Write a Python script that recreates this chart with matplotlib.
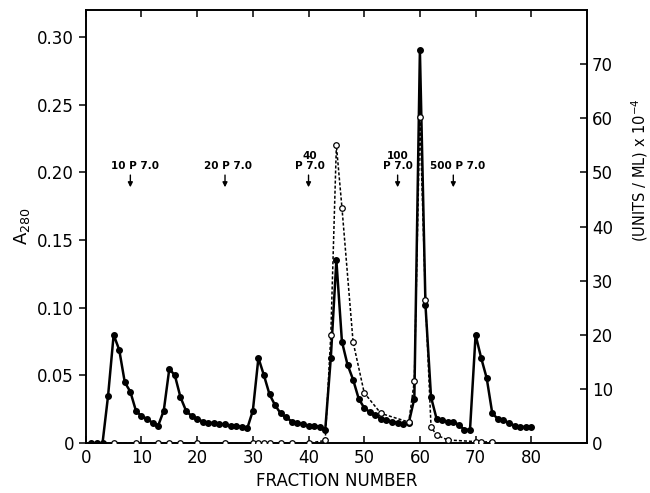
import matplotlib
matplotlib.use("Agg")
import matplotlib.pyplot as plt
from matplotlib.ticker import FuncFormatter

# A280 (filled dots, solid line, left axis)
frac_a = list(range(1, 81))
a280 = [0, 0, 0, 0.035, 0.080, 0.069, 0.045, 0.038, 0.024, 0.020,
        0.018, 0.015, 0.013, 0.024, 0.055, 0.050, 0.034, 0.024, 0.020, 0.018,
        0.016, 0.015, 0.015, 0.014, 0.014, 0.013, 0.013, 0.012, 0.011, 0.024,
        0.063, 0.050, 0.036, 0.028, 0.022, 0.019, 0.016, 0.015, 0.014, 0.013,
        0.013, 0.012, 0.010, 0.063, 0.135, 0.075, 0.058, 0.047, 0.033, 0.026,
        0.023, 0.021, 0.018, 0.017, 0.016, 0.015, 0.014, 0.015, 0.033, 0.290,
        0.102, 0.034, 0.018, 0.017, 0.016, 0.016, 0.0135, 0.010, 0.010, 0.080,
        0.063, 0.048, 0.022, 0.018, 0.017, 0.015, 0.013, 0.012, 0.012, 0.012]

# activity, (units/ml) x 10^-4 (open circles, dashed line, right axis)
frac_u = [5, 9, 13, 15, 17, 20, 25, 30, 31, 32, 33, 35, 37, 40, 43,
          44, 45, 46, 48, 50, 53, 58, 59, 60, 61, 62, 63, 65, 70, 71, 73]
units = [0, 0, 0, 0, 0, 0, 0, 0, 0, 0, 0, 0, 0, 0, 0.5,
         20, 55, 43.5, 18.7, 9.3, 5.5, 3.9, 11.5, 60.3, 26.4, 3.0, 1.5, 0.6, 0.3, 0.2, 0.3]

# buffer step labels
step_labels = ["10 P 7.0", "20 P 7.0", "40\nP 7.0", "100\nP 7.0", "500 P 7.0"]
step_frac = [8, 25, 40, 56, 66]
step_text_x = [8.8, 25.6, 40.3, 56.1, 66.8]

fig = plt.figure(figsize=(6.5, 4.93), dpi=100)
ax = fig.add_axes([0.132, 0.101, 0.771, 0.879])
ax2 = ax.twinx()

ax.plot(frac_a, a280, '-', color='black', lw=1.8, marker='o', ms=4.0,
        mfc='black', mec='black', zorder=3)
ax2.plot(frac_u, units, '--', color='black', lw=1.1, dashes=(2.0, 1.3),
         marker='o', ms=4, mfc='white', mec='black', mew=0.9, zorder=3)

ax.set_xlim(0, 90)
ax.set_ylim(0, 0.32)
ax2.set_ylim(0, 80)

ax.set_xticks(range(0, 90, 10))
ax.set_yticks([0, 0.05, 0.10, 0.15, 0.20, 0.25, 0.30])
ax.yaxis.set_major_formatter(FuncFormatter(lambda v, p: '0' if v == 0 else '%.2f' % v))
ax2.set_yticks(range(0, 80, 10))

ax.tick_params(axis='x', direction='in', top=True, length=5, width=1.1,
               labelsize=12, pad=4)
ax.tick_params(axis='y', direction='out', length=5, width=1.1, labelsize=12)
ax2.tick_params(axis='y', direction='in', length=5, width=1.1, labelsize=12)

for a in (ax, ax2):
    for s in a.spines.values():
        s.set_linewidth(1.2)

ax.set_xlabel('FRACTION NUMBER', fontsize=12)
ax.set_ylabel('A$_{280}$', fontsize=13)
ax2.set_ylabel('(UNITS / ML) x 10$^{-4}$', fontsize=10.5)
ax2.yaxis.set_label_coords(1.085, 0.63)

for lab, fx, tx in zip(step_labels, step_frac, step_text_x):
    ax.text(tx, 0.201, lab, ha='center', va='bottom', fontsize=7.5,
            fontweight='bold', linespacing=1.0)
    ax.annotate('', xy=(fx, 0.189), xytext=(fx, 0.198),
                arrowprops=dict(arrowstyle='-|>', color='black', lw=1.0,
                                mutation_scale=7, shrinkA=0, shrinkB=0))

fig.savefig('out.png', dpi=100)
